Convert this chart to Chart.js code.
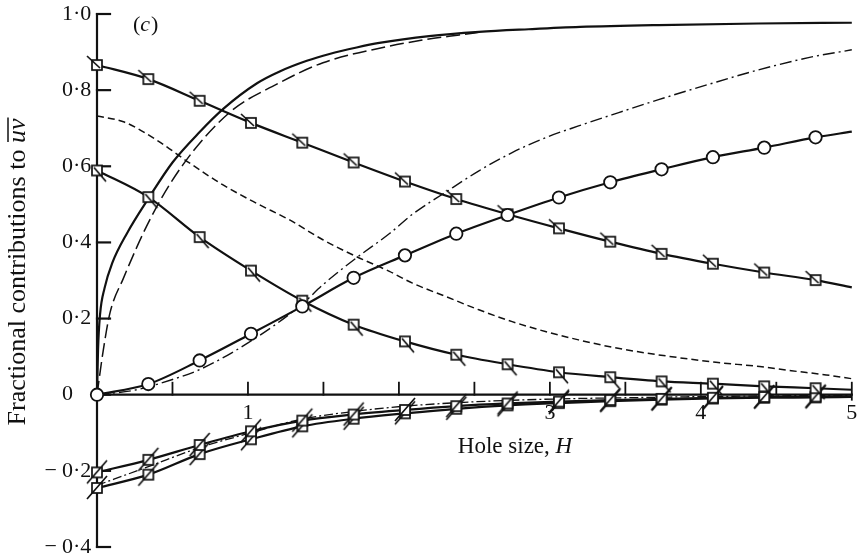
<!DOCTYPE html>
<html>
<head>
<meta charset="utf-8">
<title>Fractional contributions to uv against hole size</title>
<script src="https://cdn.jsdelivr.net/npm/chart.js@4/dist/chart.umd.min.js"></script>
<style>
  html, body { margin: 0; padding: 0; background: #fff; }
  canvas { display: block; }
</style>
</head>
<body>
<canvas id="chart" width="860" height="559"></canvas>
<script>
// Hole size H at which the symbols sit; the last entry is the end of each line at H = 5 (no symbol there)
const markerH = [0, 0.34, 0.68, 1.02, 1.36, 1.70, 2.04, 2.38, 2.72, 3.06, 3.40, 3.74, 4.08, 4.42, 4.76, 5.0];

// Curves with symbols
const squaresUpper = [0.866, 0.829, 0.772, 0.714, 0.662, 0.610, 0.560, 0.514, 0.474, 0.437, 0.402, 0.370, 0.344, 0.321, 0.301, 0.282];
const squaresLower = [0.589, 0.519, 0.414, 0.326, 0.247, 0.184, 0.140, 0.105, 0.080, 0.059, 0.046, 0.035, 0.029, 0.022, 0.017, 0.013];
const circles      = [0, 0.028, 0.090, 0.160, 0.232, 0.307, 0.366, 0.423, 0.472, 0.518, 0.558, 0.592, 0.624, 0.649, 0.676, 0.691];
const negSquaresA  = [-0.204, -0.171, -0.132, -0.096, -0.068, -0.052, -0.040, -0.030, -0.023, -0.018, -0.014, -0.011, -0.008, -0.006, -0.005, -0.004];
const negSquaresB  = [-0.245, -0.210, -0.156, -0.117, -0.083, -0.063, -0.049, -0.037, -0.028, -0.022, -0.017, -0.013, -0.010, -0.008, -0.007, -0.006];

// Plain solid curve
const solidH = [0, 0.007, 0.02, 0.05, 0.1, 0.2, 0.34, 0.5, 0.68, 0.84, 1.06, 1.21, 1.39, 1.54, 1.72, 1.87, 2.2, 2.53, 2.86, 3.2, 3.72, 4.38, 5.0];
const solidV = [0, 0.12, 0.21, 0.28, 0.345, 0.425, 0.515, 0.61, 0.69, 0.752, 0.818, 0.849, 0.877, 0.895, 0.912, 0.924, 0.942, 0.953, 0.960, 0.966, 0.971, 0.975, 0.977];

// Long-dashed curve
const longDashH = [0, 0.042, 0.086, 0.174, 0.357, 0.571, 0.88, 1.188, 1.497, 1.894, 2.18, 2.40, 2.55];
const longDashV = [0, 0.118, 0.215, 0.305, 0.465, 0.605, 0.742, 0.815, 0.872, 0.912, 0.933, 0.945, 0.953];

// Short-dashed curve
const shortDashH = [0, 0.175, 0.395, 0.615, 0.835, 1.056, 1.276, 1.496, 1.717, 1.937, 2.09, 2.31, 2.53, 2.75, 2.97, 3.19, 3.41, 3.63, 3.86, 4.1, 4.39, 4.6, 4.83, 5.0];
const shortDashV = [0.732, 0.717, 0.669, 0.608, 0.551, 0.503, 0.459, 0.407, 0.363, 0.324, 0.293, 0.258, 0.223, 0.192, 0.166, 0.144, 0.125, 0.110, 0.097, 0.085, 0.074, 0.063, 0.052, 0.042];

// Chain-dotted rising curve
const chainH = [0, 0.25, 0.5, 0.68, 1.0, 1.35, 1.5, 1.717, 1.94, 2.09, 2.31, 2.53, 2.75, 2.97, 3.19, 3.41, 3.72, 4.05, 4.38, 4.72, 5.0];
const chainV = [0, 0.012, 0.040, 0.066, 0.136, 0.235, 0.290, 0.359, 0.424, 0.474, 0.532, 0.588, 0.636, 0.675, 0.706, 0.735, 0.775, 0.815, 0.853, 0.886, 0.906];

// Chain-dotted negative curve
const negChainH = [0, 0.34, 0.68, 1.02, 1.36, 1.70, 2.04, 2.38, 2.72, 3.06, 3.5, 4.0, 4.5, 5.0];
const negChainV = [-0.238, -0.189, -0.139, -0.100, -0.064, -0.044, -0.030, -0.021, -0.015, -0.011, -0.008, -0.005, -0.003, -0.002];

// Axes
const yTickValues = [-0.4, -0.2, 0, 0.2, 0.4, 0.6, 0.8, 1.0];
const yTickLabels = ['\u22120\u00b74', '\u22120\u00b72', '0', '0\u00b72', '0\u00b74', '0\u00b76', '0\u00b78', '1\u00b70'];
const xMinorTicks = [0.5, 1, 1.5, 2, 2.5, 3, 3.5, 4, 4.5];
const xTickValues = [1, 3, 4, 5];
const xTickLabels = ['1', '3', '4', '5'];

const FONT = "'Liberation Serif', 'Times New Roman', serif";
const INK = '#111';

function pairs(xs, ys) {
  return xs.map((h, i) => ({ x: h, y: ys[i] }));
}

// Square symbol with a short stroke; (x1,y1)-(x2,y2) is the stroke relative to the centre
function squareSymbol(x1, y1, x2, y2) {
  const c = document.createElement('canvas');
  c.width = 36; c.height = 36;
  const g = c.getContext('2d');
  g.translate(18, 18);
  g.strokeStyle = INK;
  g.lineWidth = 1.7;
  g.fillStyle = '#fff';
  g.fillRect(-5, -5, 10, 10);
  g.strokeRect(-5, -5, 10, 10);
  g.beginPath();
  g.moveTo(x1, y1);
  g.lineTo(x2, y2);
  g.stroke();
  return c;
}

const symUpper = squareSymbol(-10, -9, 3, 3);
const symLower = squareSymbol(-3, -3, 9, 11);
const symNeg = squareSymbol(-10, 11, 10, -12);

const symbolRadius = markerH.map((h, i) => (i < markerH.length - 1 ? 6 : 0));

const base = {
  fill: false,
  clip: false,
  cubicInterpolationMode: 'monotone',
  borderColor: INK,
  pointRadius: 0
};

const datasets = [
  Object.assign({}, base, { label: 'solid', data: pairs(solidH, solidV), borderWidth: 2.2, order: 3 }),
  Object.assign({}, base, { label: 'long dash', data: pairs(longDashH, longDashV), borderWidth: 1.5, borderDash: [14, 5], order: 3 }),
  Object.assign({}, base, { label: 'short dash', data: pairs(shortDashH, shortDashV), borderWidth: 1.5, borderDash: [7, 4], order: 3 }),
  Object.assign({}, base, { label: 'chain', data: pairs(chainH, chainV), borderWidth: 1.4, borderDash: [12, 4, 2, 4], order: 3 }),
  Object.assign({}, base, { label: 'negative chain', data: pairs(negChainH, negChainV), borderWidth: 1.3, borderDash: [9, 3, 2, 3], order: 3 }),
  Object.assign({}, base, {
    label: 'squares upper', data: pairs(markerH, squaresUpper), borderWidth: 2.2, order: 1,
    pointRadius: symbolRadius, pointStyle: symUpper
  }),
  Object.assign({}, base, {
    label: 'squares lower', data: pairs(markerH, squaresLower), borderWidth: 2.2, order: 1,
    pointRadius: symbolRadius, pointStyle: symLower
  }),
  Object.assign({}, base, {
    label: 'negative squares A', data: pairs(markerH, negSquaresA), borderWidth: 2.2, order: 2,
    pointRadius: symbolRadius, pointStyle: symNeg
  }),
  Object.assign({}, base, {
    label: 'negative squares B', data: pairs(markerH, negSquaresB), borderWidth: 2.2, order: 2,
    pointRadius: symbolRadius, pointStyle: symNeg
  }),
  Object.assign({}, base, {
    label: 'circles', data: pairs(markerH, circles), borderWidth: 2.2, order: 0,
    pointRadius: markerH.map((h, i) => (i < markerH.length - 1 ? 6.2 : 0)),
    pointStyle: 'circle', pointBackgroundColor: '#fff', pointBorderColor: INK, pointBorderWidth: 1.8
  })
];

// Axes drawn crossing at the origin, with inward ticks
const frame = {
  id: 'frame',
  beforeDatasetsDraw(chart) {
    const { ctx, scales: { x, y } } = chart;
    const x0 = x.getPixelForValue(0);
    const y0 = y.getPixelForValue(0);
    ctx.save();
    ctx.strokeStyle = INK;
    ctx.lineWidth = 2.2;
    ctx.lineCap = 'square';
    ctx.beginPath();
    ctx.moveTo(x0, y.getPixelForValue(1.0));
    ctx.lineTo(x0, y.getPixelForValue(-0.4));
    ctx.stroke();
    yTickValues.forEach(v => {
      const p = y.getPixelForValue(v);
      ctx.beginPath();
      ctx.moveTo(x0, p);
      ctx.lineTo(x0 + 13, p);
      ctx.stroke();
    });
    const x5 = x.getPixelForValue(5);
    ctx.beginPath();
    ctx.moveTo(x0, y0);
    ctx.lineTo(x5, y0);
    ctx.stroke();
    ctx.lineWidth = 1.8;
    xMinorTicks.forEach(v => {
      const p = x.getPixelForValue(v);
      ctx.beginPath();
      ctx.moveTo(p, y0);
      ctx.lineTo(p, y0 - 12);
      ctx.stroke();
    });
    ctx.beginPath();
    ctx.moveTo(x5, y0 - 12);
    ctx.lineTo(x5, y0 + 5);
    ctx.stroke();
    ctx.restore();
  },
  afterDatasetsDraw(chart) {
    const { ctx, scales: { x, y } } = chart;
    const y0 = y.getPixelForValue(0);
    ctx.save();
    ctx.fillStyle = INK;
    ctx.strokeStyle = INK;

    // y tick labels: digits start at a common left edge, minus signs hang to the left
    ctx.font = `22px ${FONT}`;
    ctx.textBaseline = 'middle';
    yTickValues.forEach((v, i) => {
      const p = y.getPixelForValue(v);
      let s = yTickLabels[i];
      if (s.charAt(0) === '\u2212') {
        ctx.textAlign = 'right';
        ctx.fillText('\u2212', 57, p);
        s = s.slice(1);
      }
      ctx.textAlign = 'left';
      ctx.fillText(s, 62, p);
    });

    // x tick labels below the zero line
    ctx.textAlign = 'center';
    xTickValues.forEach((v, i) => {
      ctx.fillText(xTickLabels[i], x.getPixelForValue(v), y0 + 19);
    });

    // x title
    ctx.font = `23px ${FONT}`;
    const tA = 'Hole size, ';
    const wA = ctx.measureText(tA).width;
    ctx.font = `italic 23px ${FONT}`;
    const wH = ctx.measureText('H').width;
    const startX = 515 - (wA + wH) / 2;
    ctx.textAlign = 'left';
    ctx.font = `23px ${FONT}`;
    ctx.fillText(tA, startX, 447);
    ctx.font = `italic 23px ${FONT}`;
    ctx.fillText('H', startX + wA, 447);

    // y title, rotated
    ctx.save();
    ctx.translate(25, 272);
    ctx.rotate(-Math.PI / 2);
    ctx.textBaseline = 'alphabetic';
    ctx.font = `26px ${FONT}`;
    const yA = 'Fractional contributions to ';
    const wyA = ctx.measureText(yA).width;
    ctx.font = `italic 26px ${FONT}`;
    const wyB = ctx.measureText('uv').width;
    const sy = -(wyA + wyB) / 2;
    ctx.font = `26px ${FONT}`;
    ctx.fillText(yA, sy, 0);
    ctx.font = `italic 26px ${FONT}`;
    ctx.fillText('uv', sy + wyA, 0);
    ctx.lineWidth = 1.5;
    ctx.beginPath();
    ctx.moveTo(sy + wyA + 1, -17);
    ctx.lineTo(sy + wyA + wyB + 1, -17);
    ctx.stroke();
    ctx.restore();

    // panel letter
    ctx.textBaseline = 'middle';
    ctx.font = `22px ${FONT}`;
    ctx.fillText('(', 133, 25);
    const wp = ctx.measureText('(').width;
    ctx.font = `italic 22px ${FONT}`;
    ctx.fillText('c', 133 + wp, 25);
    const wc = ctx.measureText('c').width;
    ctx.font = `22px ${FONT}`;
    ctx.fillText(')', 133 + wp + wc + 1, 25);
    ctx.restore();
  }
};

new Chart(document.getElementById('chart'), {
  type: 'line',
  data: { datasets },
  options: {
    responsive: false,
    animation: false,
    events: [],
    layout: { padding: { left: 97, right: 7, top: 14, bottom: 12 } },
    plugins: { legend: { display: false }, tooltip: { enabled: false } },
    scales: {
      x: { type: 'linear', min: 0, max: 5, display: false },
      y: { type: 'linear', min: -0.4, max: 1.0, display: false }
    }
  },
  plugins: [frame]
});
</script>
</body>
</html>
